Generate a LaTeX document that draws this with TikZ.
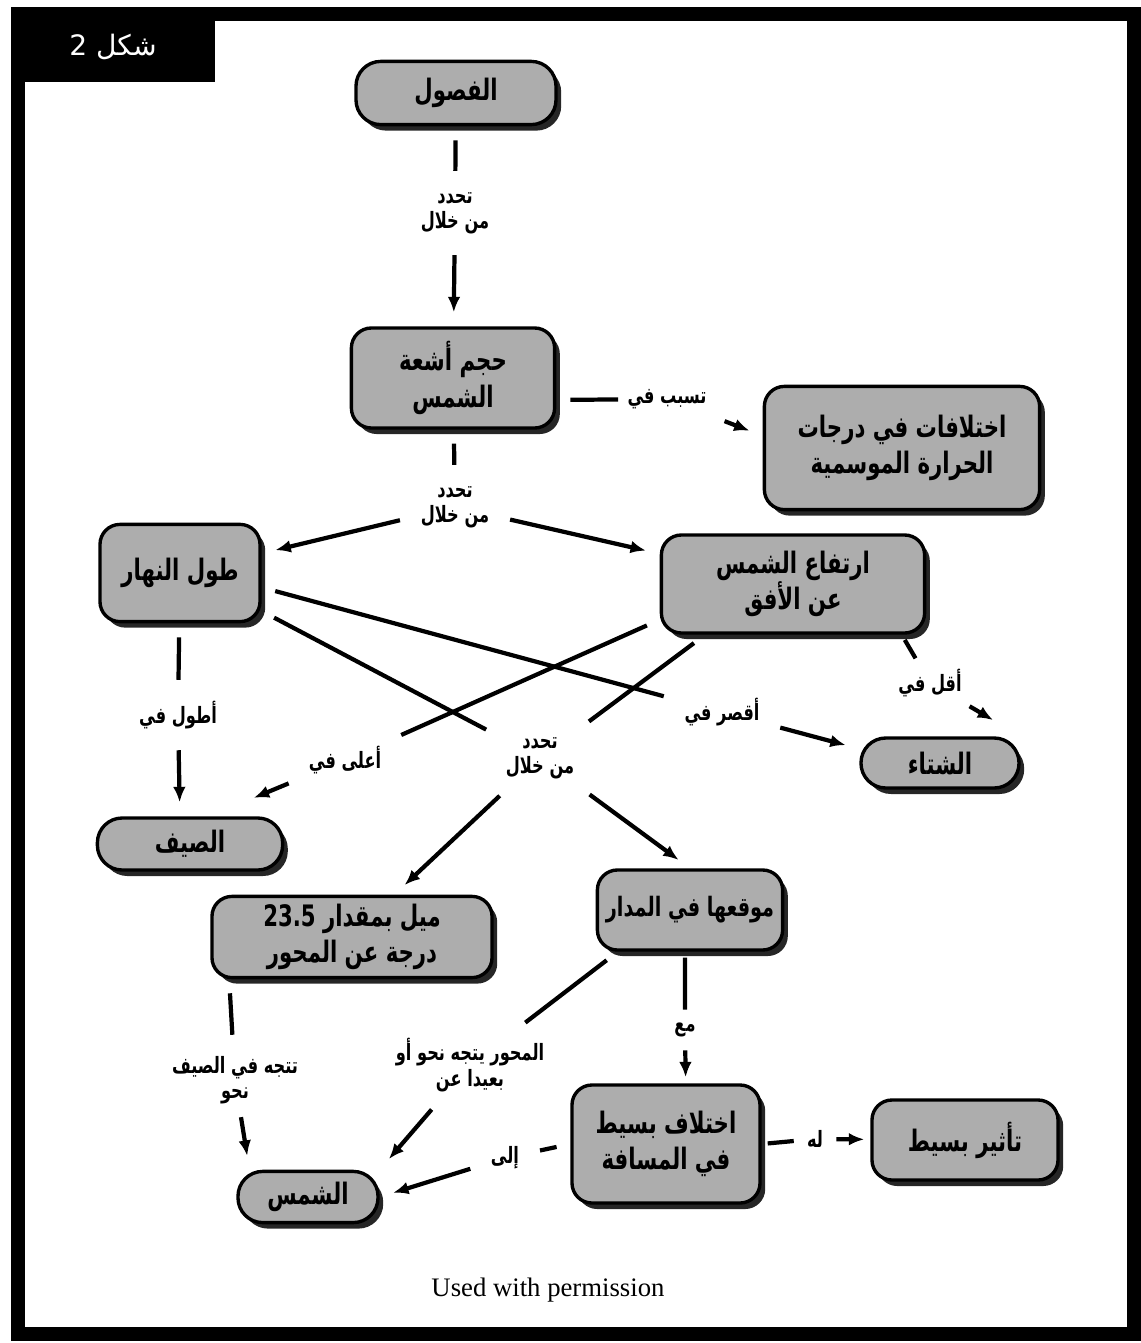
\documentclass[tikz,border=0pt]{standalone}
\usepackage{fontspec}
\usepackage{tikz}
\usetikzlibrary{arrows.meta,shadows}
\newfontfamily\arabicfont[Script=Arabic,FakeStretch=0.72]{DejaVu Sans}
\newfontfamily\titlefont[Script=Arabic]{DejaVu Sans}
\newfontfamily\notefont{Liberation Serif}
\TeXXeTstate=1

\begin{document}
\begin{tikzpicture}
  [x=0.025cm,y=-0.025cm,
   box/.style={draw,line width=2.4pt,rounded corners=0.5cm,fill=black!32,
     drop shadow={shadow xshift=0.13cm,shadow yshift=-0.15cm,fill=black,opacity=0.85},
     align=center,inner sep=2pt,
     font=\arabicfont\bfseries\fontsize{21}{26}\selectfont},
   pill/.style={box,rounded corners=0.62cm},
   lbl/.style={align=center,inner sep=5pt,
     font=\arabicfont\bfseries\fontsize{16}{18}\selectfont},
   link/.style={line width=3pt,shorten <=0.35cm,shorten >=0.35cm},
   arr/.style={link,-{Latex[length=11pt,width=9pt]}}]
  \useasboundingbox (0,0) rectangle (1140,1343);

  % frame and title tab
  \draw[line width=0.33cm] (18,14) rectangle (1134,1334);
  \fill (18,14) rectangle (215,82);
  \node[text=white,font=\titlefont\fontsize{20}{24}\selectfont] (fig) at (113,47) {\beginR شكل 2\endR};

  \node[pill,minimum width=5cm,minimum height=1.58cm]    (seasons) at (456,93)   {الفصول};
  \node[box,minimum width=5.08cm,minimum height=2.5cm]   (rays)    at (453,378)  {\beginR حجم أشعة\endR\\الشمس};
  \node[box,minimum width=6.88cm,minimum height=3.08cm]  (temps)   at (902,448)  {\beginR اختلافات في درجات\endR\\\beginR الحرارة الموسمية\endR};
  \node[box,minimum width=4cm,minimum height=2.43cm]     (daylen)  at (180,573)  {\beginR طول النهار\endR};
  \node[box,minimum width=6.58cm,minimum height=2.45cm]  (alt)     at (793,584)  {\beginR ارتفاع الشمس\endR\\\beginR عن الأفق\endR};
  \node[pill,minimum width=3.95cm,minimum height=1.25cm] (winter)  at (940,763)  {الشتاء};
  \node[pill,minimum width=4.63cm,minimum height=1.3cm]  (summer)  at (190,844)  {الصيف};
  \node[box,minimum width=7cm,minimum height=2.03cm]     (tilt)    at (352,937)  {\beginR ميل بمقدار \beginL23.5\endL\endR\\\beginR درجة عن المحور\endR};
  \node[box,minimum width=4.63cm,minimum height=2cm,
        font=\arabicfont\bfseries\fontsize{19}{24}\selectfont] (orbit) at (690,910) {\beginR موقعها في المدار\endR};
  \node[box,minimum width=4.7cm,minimum height=2.95cm]   (dist)    at (666,1144) {\beginR اختلاف بسيط\endR\\\beginR في المسافة\endR};
  \node[box,minimum width=4.65cm,minimum height=2cm]     (effect)  at (965,1140) {\beginR تأثير بسيط\endR};
  \node[pill,minimum width=3.5cm,minimum height=1.28cm]  (sun)     at (308,1197) {الشمس};

  % link words
  \node[lbl] (la) at (455,213)  {تحدد\\\beginR من خلال\endR};
  \node[lbl] (lb) at (667,399)  {\beginR تسبب في\endR};
  \node[lbl] (lc) at (455,507)  {تحدد\\\beginR من خلال\endR};
  \node[lbl] (ld) at (178,715)  {\beginR أطول في\endR};
  \node[lbl] (le) at (722,712)  {\beginR أقصر في\endR};
  \node[lbl] (lf) at (540,758)  {تحدد\\\beginR من خلال\endR};
  \node[lbl] (lg) at (345,760)  {\beginR أعلى في\endR};
  \node[lbl] (lh) at (930,683)  {\beginR أقل في\endR};
  \node[lbl] (li) at (235,1080) {\beginR تتجه في الصيف\endR\\نحو};
  \node[lbl] (lj) at (470,1065) {\beginR المحور يتجه نحو أو\endR\\\beginR بعيدا عن\endR};
  \node[lbl] (lk) at (685,1030) {مع};
  \node[lbl] (ll) at (505,1158) {إلى};
  \node[lbl] (lm) at (815,1139) {له};

  \node[font=\notefont\fontsize{19}{22}\selectfont] (note) at (548,1290) {Used with permission};

    \draw[link] (seasons) -- (la);
    \draw[arr]  (la) -- (rays);
    \draw[link,shorten >=0.05cm] (rays.-12) -- (lb);
    \draw[arr]  (lb) -- (temps.175);
    \draw[link] (rays) -- (lc);
    \draw[arr]  (lc) -- (daylen);
    \draw[arr]  (lc) -- (alt);
    \draw[link] (daylen) -- (ld);
    \draw[arr]  (ld) -- (summer.110);
    \draw[link] (daylen.-10) -- (le);
    \draw[arr]  (le) -- (winter.170);
    \draw[link] (daylen.-25) -- (lf);
    \draw[link] (alt.-150) -- (lf);
    \draw[link] (alt.-165) -- (lg);
    \draw[arr,shorten >=1.2cm] (lg) -- (summer.55);
    \draw[link,shorten <=0.15cm,shorten >=0.1cm] (alt.-25) -- (lh);
    \draw[arr,shorten <=0.1cm,shorten >=0.8cm] (lh) -- (winter.north east);
    \draw[arr]  (lf) -- (tilt.45);
    \draw[arr]  (lf) -- (orbit.north);
    \draw[link] (tilt.-161) -- (li);
    \draw[arr,shorten <=0.15cm]  (li) -- (sun.155);
    \draw[link] (orbit.-150) -- (lj);
    \draw[arr]  (lj) -- (sun.north east);
    \draw[link,shorten <=0.15cm,shorten >=0.15cm] (orbit.-97) -- (lk);
    \draw[arr,shorten <=0.15cm,shorten >=0.15cm]  (lk) -- (dist.72);
    \draw[link] (dist.west) -- (ll);
    \draw[arr]  (ll) -- (sun.east);
    \draw[link,shorten <=0.15cm,shorten >=0.15cm] (dist.east) -- (lm);
    \draw[arr,shorten <=0.15cm,shorten >=0.15cm]  (lm) -- (effect);
  %  \draw[link] (tilt) -- (orbit);

\end{tikzpicture}
\end{document}
